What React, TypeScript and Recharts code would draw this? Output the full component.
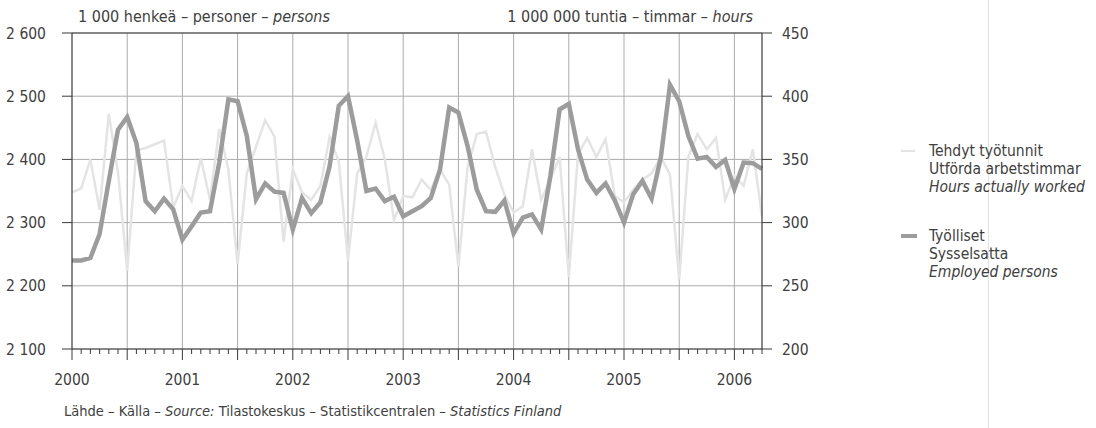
import React from 'react';
import { LineChart, Line, XAxis, YAxis, CartesianGrid, ReferenceLine } from 'recharts';

// Month index 0 = January 2000 ... 75 = April 2006
const startYear = 2000;
const monthIndex: number[] = Array.from({ length: 76 }, (_, i) => i);
const monthLabels: string[] = monthIndex.map(
  (i) => `${startYear + Math.floor(i / 12)}-${String((i % 12) + 1).padStart(2, '0')}`
);

// Työlliset – Sysselsatta – Employed persons (1 000 persons, left axis)
const employed: number[] = [
  2240, 2240, 2244, 2282, 2366, 2447, 2467, 2426, 2334, 2318, 2338, 2321,
  2273, 2294, 2316, 2318, 2395, 2495, 2492, 2437, 2337, 2362, 2349, 2347,
  2289, 2339, 2315, 2332, 2389, 2485, 2500, 2430, 2350, 2354, 2334, 2341,
  2310, 2318, 2326, 2339, 2384, 2482, 2474, 2421, 2352, 2318, 2317, 2335,
  2283, 2308, 2313, 2289, 2374, 2479, 2488, 2416, 2368, 2347, 2362, 2335,
  2300, 2345, 2366, 2338, 2403, 2518, 2492, 2437, 2401, 2404, 2388, 2399,
  2353, 2395, 2394, 2385,
];

// Tehdyt työtunnit – Utförda arbetstimmar – Hours actually worked (1 000 000 hours, right axis)
const hours: number[] = [
  324, 327, 350, 310, 386, 340, 262, 357, 359, 362, 365, 312,
  329, 317, 351, 318, 374, 342, 267, 339, 360, 381, 368, 285,
  342, 324, 318, 329, 368, 348, 270, 339, 352, 379, 350, 302,
  321, 320, 334, 326, 342, 330, 265, 344, 370, 372, 344, 322,
  308, 313, 358, 318, 334, 352, 257, 354, 367, 352, 366, 321,
  316, 326, 334, 339, 352, 338, 255, 352, 370, 358, 367, 318,
  337, 329, 358, 305,
];

const leftTicks: number[] = [2100, 2200, 2300, 2400, 2500, 2600];
const rightTicks: number[] = [200, 250, 300, 350, 400, 450];
const yearTickLabels: string[] = ['2000', '2001', '2002', '2003', '2004', '2005', '2006'];
const halfYearGrid: number[] = [6, 12, 18, 24, 30, 36, 42, 48, 54, 60, 66, 72];

const data = monthIndex.map((m, i) => ({
  m,
  label: monthLabels[i],
  employed: employed[i],
  hours: hours[i],
}));

const FONT = '"DejaVu Sans Condensed", "Liberation Sans Narrow", "Arial Narrow", "DejaVu Sans", sans-serif';
const TEXT = '#404040';
const AXIS = '#3a3a3a';
const GRID = '#ababab';
const DARK = '#9c9c9c';
const LIGHT = '#e4e4e4';

const fmtThousands = (v: number) => {
  const s = String(v);
  return s.length > 3 ? s.slice(0, s.length - 3) + ' ' + s.slice(s.length - 3) : s;
};

const XTick = (props: any) => {
  const { x, y, payload } = props;
  const v: number = payload.value;
  const major = v % 6 === 0;
  const yearIdx = v % 12 === 0 ? v / 12 : -1;
  return (
    <g>
      <line x1={x} x2={x} y1={y} y2={y + (major ? 11 : 5)} stroke={AXIS} strokeWidth={1} />
      {yearIdx >= 0 && yearIdx < yearTickLabels.length && (
        <text x={x} y={y + 36} textAnchor="middle" fontFamily={FONT} fontSize={15.5} fill={TEXT}>
          {yearTickLabels[yearIdx]}
        </text>
      )}
    </g>
  );
};

const LegendBlock = () => (
  <div
    style={{
      position: 'absolute',
      left: 895,
      top: 142,
      width: 200,
      fontFamily: FONT,
      fontSize: 15.5,
      color: TEXT,
      lineHeight: '18px',
    }}
  >
    <div style={{ position: 'relative', paddingLeft: 34 }}>
      <div style={{ position: 'absolute', left: 6, top: 8, width: 14, height: 2, background: LIGHT }} />
      <div>Tehdyt työtunnit</div>
      <div>Utförda arbetstimmar</div>
      <div style={{ fontStyle: 'italic' }}>Hours actually worked</div>
    </div>
    <div style={{ position: 'relative', paddingLeft: 34, marginTop: 31 }}>
      <div style={{ position: 'absolute', left: 6, top: 7, width: 16, height: 4, background: DARK }} />
      <div>Työlliset</div>
      <div>Sysselsatta</div>
      <div style={{ fontStyle: 'italic' }}>Employed persons</div>
    </div>
  </div>
);

export default function App() {
  return (
    <div style={{ position: 'absolute', left: 0, top: 0, width: 1096, height: 428, background: '#fff', overflow: 'hidden' }}>
      <div style={{ position: 'absolute', left: 988, top: 0, width: 1, height: 428, background: '#e2e2e2' }} />
      <LineChart
        width={1096}
        height={428}
        data={data}
        margin={{ top: 33, right: 274, bottom: 39, left: 0 }}
      >
        <CartesianGrid yAxisId="left" vertical={false} stroke={GRID} strokeWidth={1} />
        {halfYearGrid.map((g) => (
          <ReferenceLine key={g} x={g} yAxisId="left" stroke={GRID} strokeWidth={1} />
        ))}
        <ReferenceLine y={2600} yAxisId="left" stroke={AXIS} strokeWidth={1.2} />
        <XAxis
          dataKey="m"
          type="number"
          domain={[0, 75]}
          ticks={monthIndex}
          interval={0}
          height={40}
          tickSize={0}
          tickMargin={0}
          tickLine={false}
          axisLine={{ stroke: AXIS, strokeWidth: 1.2 }}
          tick={<XTick />}
        />
        <YAxis
          yAxisId="left"
          width={72}
          domain={[2100, 2600]}
          ticks={leftTicks}
          interval={0}
          tickSize={10}
          tickMargin={16}
          tickFormatter={fmtThousands}
          axisLine={{ stroke: AXIS, strokeWidth: 1.2 }}
          tickLine={{ stroke: AXIS }}
          tick={{ fontFamily: FONT, fontSize: 15.5, fill: TEXT }}
        />
        <YAxis
          yAxisId="right"
          orientation="right"
          width={60}
          domain={[200, 450]}
          ticks={rightTicks}
          interval={0}
          tickSize={10}
          tickMargin={10}
          axisLine={{ stroke: AXIS, strokeWidth: 1.2 }}
          tickLine={{ stroke: AXIS }}
          tick={{ fontFamily: FONT, fontSize: 15.5, fill: TEXT, textAnchor: 'start' }}
        />
        <Line
          yAxisId="right"
          type="linear"
          dataKey="hours"
          stroke={LIGHT}
          strokeWidth={2.5}
          dot={false}
          isAnimationActive={false}
        />
        <Line
          yAxisId="left"
          type="linear"
          dataKey="employed"
          stroke={DARK}
          strokeWidth={4.5}
          dot={false}
          isAnimationActive={false}
        />
      </LineChart>
      <LegendBlock />
      <div style={{ position: 'absolute', left: 78, top: 7, fontFamily: FONT, fontSize: 16, color: TEXT, whiteSpace: 'nowrap' }}>
        1 000 henkeä – personer – <i>persons</i>
      </div>
      <div style={{ position: 'absolute', right: 1096 - 753, top: 7, fontFamily: FONT, fontSize: 16, color: TEXT, whiteSpace: 'nowrap' }}>
        1 000 000 tuntia – timmar – <i>hours</i>
      </div>
      <div style={{ position: 'absolute', left: 64, top: 403, fontFamily: FONT, fontSize: 14.5, color: TEXT, whiteSpace: 'nowrap' }}>
        Lähde – Källa – <i>Source:</i> Tilastokeskus – Statistikcentralen – <i>Statistics Finland</i>
      </div>
    </div>
  );
}
